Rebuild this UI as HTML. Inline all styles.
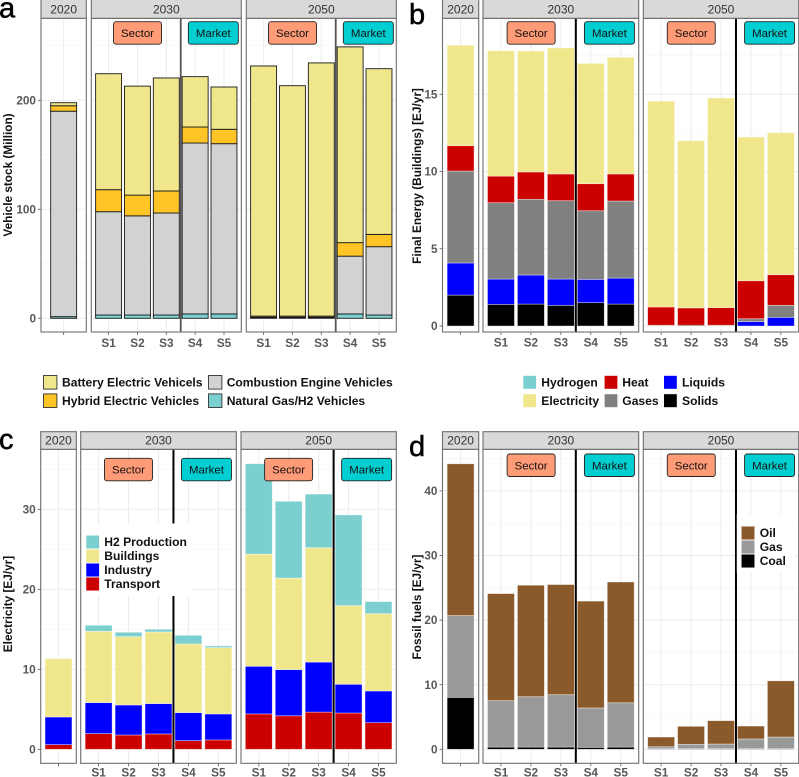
<!DOCTYPE html>
<html lang="en">
<head>
<meta charset="utf-8">
<title>Vehicle stock and energy by scenario</title>
<style>
html,body{margin:0;padding:0;background:#fff;width:799px;height:777px;overflow:hidden}
svg{display:block;font-family:"Liberation Sans",Arial,sans-serif}
</style>
</head>
<body>
<svg id="fig" xmlns="http://www.w3.org/2000/svg" width="799" height="777" viewBox="0 0 799 777"></svg>
<script>
// ---- Shared categories
const years = ['2020', '2030', '2050'];
const scenarios = ['S1', 'S2', 'S3', 'S4', 'S5'];
const groupLabels = ['Sector', 'Market'];

// ---- Panel a: vehicle stock (Million), order: 2020, 2030 S1-S5, 2050 S1-S5
const aTicks = [0, 100, 200];
const aNaturalGas = [1.5, 3, 3, 3, 4, 4, 0.5, 0.5, 0.5, 4, 3];
const aCombustion = [188.5, 94.8, 91, 93.6, 156.8, 156.2, 0.5, 0.5, 0.5, 53, 62.7];
const aHybrid = [5, 20.2, 19, 20.2, 14.7, 13.2, 1, 1, 1, 12.4, 11.3];
const aBattery = [2.8, 106.4, 100, 103.7, 46.2, 38.8, 229.5, 211.4, 232.3, 179.6, 152];

// ---- Panel b: final energy, buildings (EJ/yr)
const bTicks = [0, 5, 10, 15];
const bSolids = [2.0, 1.4, 1.42, 1.34, 1.51, 1.42, 0.02, 0.05, 0.02, 0, 0];
const bLiquids = [2.08, 1.64, 1.88, 1.7, 1.51, 1.68, 0, 0, 0, 0.28, 0.56];
const bGases = [5.95, 4.94, 4.9, 5.07, 4.44, 4.99, 0.03, 0, 0.03, 0.19, 0.78];
const bHeat = [1.64, 1.72, 1.77, 1.73, 1.75, 1.75, 1.18, 1.12, 1.14, 2.46, 1.98];
const bElectricity = [6.5, 8.12, 7.83, 8.16, 7.79, 7.55, 13.33, 10.83, 13.57, 9.3, 9.19];

// ---- Panel c: electricity (EJ/yr)
const cTicks = [0, 10, 20, 30];
const cTransport = [0.58, 1.96, 1.79, 1.92, 1.08, 1.17, 4.42, 4.19, 4.65, 4.54, 3.33];
const cIndustry = [3.46, 3.87, 3.75, 3.79, 3.5, 3.25, 5.96, 5.77, 6.25, 3.59, 3.96];
const cBuildings = [7.29, 8.92, 8.54, 8.96, 8.59, 8.29, 14.02, 11.44, 14.3, 9.83, 9.67];
const cH2 = [0.02, 0.75, 0.55, 0.33, 1.08, 0.21, 11.3, 9.6, 6.7, 11.34, 1.5];

// ---- Panel d: fossil fuels (EJ/yr)
const dTicks = [0, 10, 20, 30, 40];
const dCoal = [8.04, 0.35, 0.35, 0.35, 0.3, 0.35, 0.1, 0.1, 0.1, 0.1, 0.1];
const dGas = [12.66, 7.18, 7.79, 8.1, 6.1, 6.85, 0.3, 0.67, 0.72, 1.5, 1.8];
const dOil = [23.5, 16.57, 17.26, 17.05, 16.54, 18.7, 1.5, 2.79, 3.61, 2, 8.7];

const svg = document.getElementById('fig');
const NS = 'http://www.w3.org/2000/svg';
function mk(tag, attrs, parent) {
  const e = document.createElementNS(NS, tag);
  for (const k in attrs) e.setAttribute(k, attrs[k]);
  (parent || svg).appendChild(e);
  return e;
}
function label(text, attrs, parent) {
  const e = mk('text', attrs, parent);
  e.textContent = text;
  return e;
}
function slug(s) { return s.toLowerCase().replace(/[^a-z0-9]+/g, '-'); }

function drawPanel(p) {
  const g = mk('g', {});
  
  
  const yScale = v => p.y0 - v * p.k;
  const unit = (p.facets[1][1] - p.facets[1][0]) / 5.2;
  const step = p.ticks[1] - p.ticks[0];
  let barIndex = 0;

  // y tick labels
  p.ticks.forEach(t => {
    const tx = label(String(t), {x: p.facets[0][0] - 5, y: yScale(t) + 4.1, 'text-anchor': 'end', 'font-size': 11.8, 'font-weight': 700, fill: '#595959'}, g);
    
    
    const tk = mk('line', {x1: p.facets[0][0] - 3, x2: p.facets[0][0], y1: yScale(t), y2: yScale(t), stroke: '#555', 'stroke-width': 0.8}, g);
    
    
  });

  const title = label(p.yTitle, {transform: 'translate(' + p.titleX + ',' + p.titleY + ') rotate(-90)', 'text-anchor': 'middle', 'font-size': 11.8, 'font-weight': 700, fill: '#111'}, g);
  
  

  const letter = label(p.id, {x: p.letterX, y: p.letterY, 'font-size': 29, fill: '#000', stroke: '#000', 'stroke-width': 0.5}, g);
  
  

  years.forEach((yr, f) => {
    const l = p.facets[f][0], r = p.facets[f][1], w = r - l;
    const n = f === 0 ? 1 : scenarios.length;
    const mid = (l + r) / 2;
    const cx = i => mid + (i - (n - 1) / 2) * unit;

    const bg = mk('rect', {x: l, y: p.top, width: w, height: p.bottom - p.top, fill: '#fff'}, g);
    
    

    // minor then major grid
    for (let v = p.ticks[0] - step / 2; yScale(v) > p.top; v += step) {
      if (yScale(v) < p.bottom) {
        const gm = mk('line', {x1: l, x2: r, y1: yScale(v), y2: yScale(v), stroke: '#f3f3f3', 'stroke-width': 0.6}, g);
        
        
      }
    }
    p.ticks.forEach(t => {
      const gl = mk('line', {x1: l, x2: r, y1: yScale(t), y2: yScale(t), stroke: '#ebebeb', 'stroke-width': 1}, g);
      
      
    });
    for (let i = 0; i < n; i++) {
      const gv = mk('line', {x1: cx(i), x2: cx(i), y1: p.top, y2: p.bottom, stroke: '#ebebeb', 'stroke-width': 1}, g);
      
      
    }

    // market separator under bars in panel a
    const sepX = cx(2) + unit / 2;
    if (f > 0 && p.sepUnder) {
      const sep = mk('line', {x1: sepX, x2: sepX, y1: p.top, y2: p.bottom, stroke: '#555', 'stroke-width': 1.8}, g);
      
      
    }

    // stacked bars
    for (let i = 0; i < n; i++) {
      let acc = 0;
      const sc = f === 0 ? yr : yr + '-' + scenarios[i];
      p.series.forEach(s => {
        const v = s.values[barIndex];
        if (v > 0) {
          const rc = mk('rect', {x: cx(i) - unit * 0.45, y: yScale(acc + v), width: unit * 0.9, height: v * p.k, fill: s.color, stroke: p.barStroke, 'stroke-width': p.barStrokeW, 'stroke-opacity': p.barStrokeO}, g);
          
          
        }
        acc += v;
      });
      barIndex++;
      if (f > 0) {
        const xt = label(scenarios[i], {x: cx(i), y: p.bottom + p.xLabelOffset, 'text-anchor': 'middle', 'font-size': 11.8, 'font-weight': 700, fill: '#595959'}, g);
        
        
      }
      const tick = mk('line', {x1: cx(i), x2: cx(i), y1: p.bottom, y2: p.bottom + 3, stroke: '#555', 'stroke-width': 0.8}, g);
      
      
    }

    if (f > 0 && !p.sepUnder) {
      const sep = mk('line', {x1: sepX, x2: sepX, y1: p.top, y2: p.bottom, stroke: '#000', 'stroke-width': 2}, g);
      
      
    }

    const frame = mk('rect', {x: l, y: p.top, width: w, height: p.bottom - p.top, fill: 'none', stroke: '#6e6e6e', 'stroke-width': 1.1}, g);
    
    

    const strip = mk('rect', {x: l, y: p.stripTop, width: w, height: p.top - p.stripTop, fill: '#d9d9d9', stroke: '#6e6e6e', 'stroke-width': 1.1}, g);
    
    
    const st = label(yr, {x: mid, y: p.top - 4.8, 'text-anchor': 'middle', 'font-size': 12, fill: '#333'}, g);
    
    

    // Sector / Market tags
    if (f > 0) {
      const tags = [[sepX - 67.2, 48, '#ff9b76'], [sepX + 7.6, 50, '#00ced1']];
      if (p.tagOffsets) { tags[0][0] = sepX + p.tagOffsets[0]; tags[1][0] = sepX + p.tagOffsets[1]; }
      tags.forEach((t, j) => {
        const tb = mk('rect', {x: t[0], y: p.tagY, width: t[1], height: 22.5, rx: 2.5, fill: t[2], stroke: '#222', 'stroke-width': 0.9}, g);
        
        
        const tt = label(groupLabels[j], {x: t[0] + t[1] / 2, y: p.tagY + 15.4, 'text-anchor': 'middle', 'font-size': 11.4, fill: '#111'}, g);
        
        
      });
    }
  });
  return g;
}

const khaki = '#f0e68c', teal = '#7ccfcf';
const panels = [
  {id: 'a', facets: [[41, 86.3], [91.3, 241.3], [246.3, 396.3]], top: 18.3, bottom: 332, stripTop: -1, y0: 318.3, k: 1.09, ticks: aTicks, xLabelOffset: 14.8,
   yTitle: 'Vehicle stock (Million)', titleX: 12, titleY: 175, letterX: -1, letterY: 17.5, tagY: 21.7, sepUnder: true,
   barStroke: '#1a1a1a', barStrokeW: 0.9, barStrokeO: 1,
   series: [{name: 'Natural Gas H2', values: aNaturalGas, color: teal}, {name: 'Combustion Engine', values: aCombustion, color: '#d1d2d4'}, {name: 'Hybrid Electric', values: aHybrid, color: '#ffc425'}, {name: 'Battery Electric', values: aBattery, color: khaki}]},
  {id: 'b', facets: [[442.5, 478.7], [483, 638.7], [643.3, 798.7]], top: 18.3, bottom: 332, stripTop: -1, y0: 326, k: 15.45, ticks: bTicks, xLabelOffset: 14.5,
   yTitle: 'Final Energy (Buildings) [EJ/yr]', titleX: 421, titleY: 176, letterX: 409, letterY: 24, tagY: 21.7, tagOffsets: [-68.7, 8.6],
   barStroke: '#fff', barStrokeW: 0.7, barStrokeO: 0.55,
   series: [{name: 'Solids', values: bSolids, color: '#000'}, {name: 'Liquids', values: bLiquids, color: '#0000ff'}, {name: 'Gases', values: bGases, color: '#808080'}, {name: 'Heat', values: bHeat, color: '#cd0000'}, {name: 'Electricity', values: bElectricity, color: khaki}]},
  {id: 'c', facets: [[40.7, 76.3], [80.7, 236.3], [241, 396.3]], top: 449.3, bottom: 763.3, stripTop: 431.7, y0: 749.3, k: 8, ticks: cTicks, xLabelOffset: 13.2,
   yTitle: 'Electricity [EJ/yr]', titleX: 12, titleY: 604, letterX: -1, letterY: 449, tagY: 458.3, tagOffsets: [-69, 8],
   barStroke: '#fff', barStrokeW: 0.7, barStrokeO: 0.55,
   series: [{name: 'Transport', values: cTransport, color: '#cd0000'}, {name: 'Industry', values: cIndustry, color: '#0000ff'}, {name: 'Buildings', values: cBuildings, color: khaki}, {name: 'H2 Production', values: cH2, color: teal}]},
  {id: 'd', facets: [[442.5, 478.7], [483, 638.7], [643.3, 798.7]], top: 449.3, bottom: 763.3, stripTop: 431.7, y0: 749.3, k: 6.46, ticks: dTicks, xLabelOffset: 13.2,
   yTitle: 'Fossil fuels [EJ/yr]', titleX: 421, titleY: 607, letterX: 409, letterY: 456, tagY: 454, tagOffsets: [-68.7, 8.6],
   barStroke: '#fff', barStrokeW: 0.7, barStrokeO: 0.55,
   series: [{name: 'Coal', values: dCoal, color: '#000'}, {name: 'Gas', values: dGas, color: '#999999'}, {name: 'Oil', values: dOil, color: '#8b5a2b'}]}
];
panels.forEach(drawPanel);

// ---- Legends
function drawLegend(id, entries, bgBox, swStroke, swStrokeW, fontSize) {
  const g = mk('g', {});
  
  
  if (bgBox) {
    const b = mk('rect', {x: bgBox[0], y: bgBox[1], width: bgBox[2], height: bgBox[3], fill: '#fff'}, g);
    
    
  }
  entries.forEach(en => {
    const sw = mk('rect', {x: en.x, y: en.y - 6.8, width: 13.4, height: 13.6, fill: en.color, stroke: swStroke, 'stroke-width': swStrokeW}, g);
    
    
    const t = label(en.name, {x: en.tx, y: en.y + 4.2, 'font-size': fontSize, 'font-weight': 700, fill: '#111'}, g);
    
    
  });
}
drawLegend('a', [
  {name: 'Battery Electric Vehicels', color: khaki, x: 43.5, tx: 62, y: 382.3},
  {name: 'Hybrid Electric Vehicles', color: '#ffc425', x: 43.5, tx: 62, y: 400.7},
  {name: 'Combustion Engine Vehicles', color: '#d1d2d4', x: 208.5, tx: 226.7, y: 382.3},
  {name: 'Natural Gas/H2 Vehicles', color: teal, x: 208.5, tx: 226.7, y: 400.7}
], null, '#333', 0.9, 12.1);
drawLegend('b', [
  {name: 'Hydrogen', color: teal, x: 523, tx: 541.3, y: 382.3},
  {name: 'Electricity', color: khaki, x: 523, tx: 541.3, y: 400.7},
  {name: 'Heat', color: '#cd0000', x: 604.3, tx: 622.3, y: 382.3},
  {name: 'Gases', color: '#808080', x: 604.3, tx: 622.3, y: 400.7},
  {name: 'Liquids', color: '#0000ff', x: 663.7, tx: 682, y: 382.3},
  {name: 'Solids', color: '#000', x: 663.7, tx: 682, y: 400.7}
], null, '#fff', 0.6, 12.1);
drawLegend('c', [
  {name: 'H2 Production', color: teal, x: 86, tx: 104.3, y: 542},
  {name: 'Buildings', color: khaki, x: 86, tx: 104.3, y: 556},
  {name: 'Industry', color: '#0000ff', x: 86, tx: 104.3, y: 570},
  {name: 'Transport', color: '#cd0000', x: 86, tx: 104.3, y: 584}
], [82, 523.5, 110, 72.5], '#fff', 0.5, 12.1);
drawLegend('d', [
  {name: 'Oil', color: '#8b5a2b', x: 741.3, tx: 759.7, y: 533},
  {name: 'Gas', color: '#999999', x: 741.3, tx: 759.7, y: 547},
  {name: 'Coal', color: '#000', x: 741.3, tx: 759.7, y: 561}
], [736.8, 514, 58, 58.7], '#fff', 0.5, 12.1);
</script>
</body>
</html>
